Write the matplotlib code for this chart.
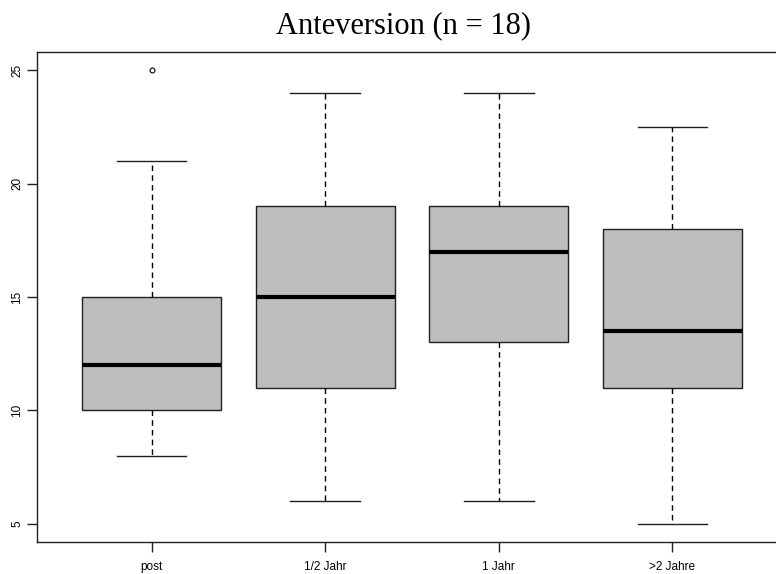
import matplotlib.pyplot as plt

# Anteversion nach Zeitpunkt: Boxplot-Kennwerte
groups = ['post', '1/2 Jahr', '1 Jahr', '>2 Jahre']
whisker_low = [8, 6, 6, 5]
q1 = [10, 11, 13, 11]
medians = [12, 15, 17, 13.5]
q3 = [15, 19, 19, 18]
whisker_high = [21, 24, 24, 22.5]
outliers = [[25], [], [], []]

stats = []
for i, name in enumerate(groups):
    stats.append({
        'label': name,
        'whislo': whisker_low[i],
        'q1': q1[i],
        'med': medians[i],
        'q3': q3[i],
        'whishi': whisker_high[i],
        'fliers': outliers[i],
    })

fig = plt.figure(figsize=(7.76, 5.74), dpi=100)
# Plotbereich reicht rechts etwas über den Bildrand hinaus
ax = fig.add_axes([0.0477, 0.0557, 0.9665, 0.8537])

ax.bxp(stats, widths=0.8, patch_artist=True,
       boxprops=dict(facecolor='#bebebe', edgecolor='#202020', linewidth=1),
       medianprops=dict(color='black', linewidth=3, solid_capstyle='butt'),
       whiskerprops=dict(color='black', linestyle=(0, (4, 3)), linewidth=1),
       capprops=dict(color='#202020', linewidth=1),
       capwidths=0.4,
       flierprops=dict(marker='o', markersize=3.5, markerfacecolor='none',
                       markeredgecolor='black', markeredgewidth=0.8))

ax.set_xlim(0.34, 4.66)
ax.set_ylim(4.2, 25.8)
ax.set_yticks([5, 10, 15, 20, 25])
ax.set_yticklabels(['5', '10', '15', '20', '25'], rotation=90, va='center',
                   fontfamily='Liberation Sans', fontsize=8.5)
ax.set_xticks([1, 2, 3, 4])
ax.set_xticklabels(groups, fontfamily='Liberation Sans', fontsize=8.5)
ax.tick_params(axis='both', length=7, width=1, color='#202020')
ax.tick_params(axis='x', pad=7)
ax.tick_params(axis='y', pad=3)
for s in ax.spines.values():
    s.set_color('#202020')
    s.set_linewidth(1)

fig.text(0.5206, 0.956, 'Anteversion (n = 18)', ha='center', va='center',
         fontfamily='Liberation Serif', fontsize=22)

fig.savefig('out.png', dpi=100)
